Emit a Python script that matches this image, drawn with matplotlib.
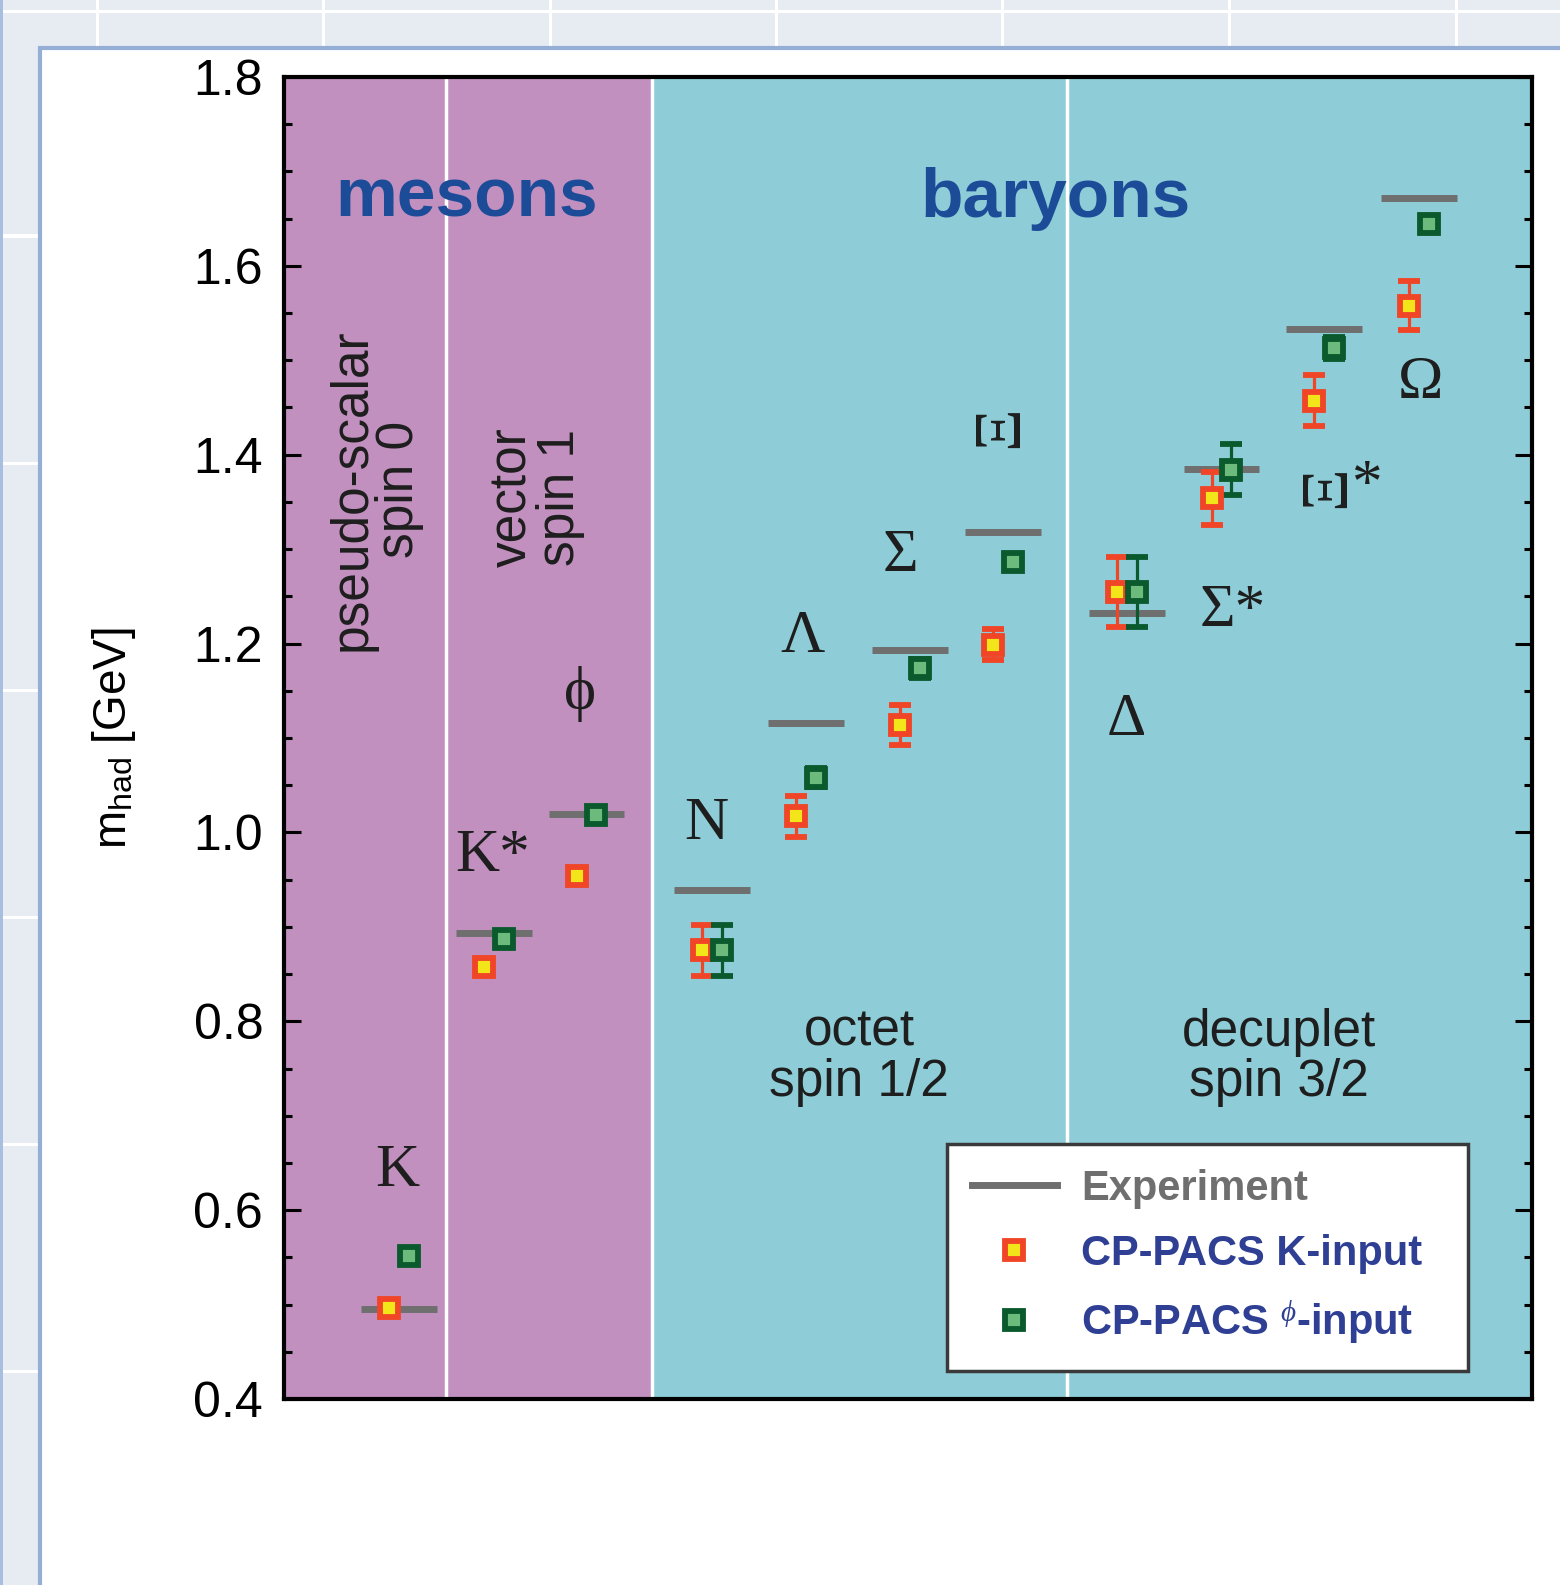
import matplotlib
matplotlib.use("Agg")
import matplotlib.pyplot as plt
from matplotlib.patches import Rectangle
from matplotlib.lines import Line2D
from matplotlib.ticker import MultipleLocator

plt.rcParams['font.family'] = ['Liberation Sans', 'DejaVu Sans']
plt.rcParams['mathtext.fontset'] = 'custom'
plt.rcParams['mathtext.rm'] = 'Liberation Sans'
plt.rcParams['mathtext.it'] = 'Liberation Serif:italic'

# hadrons, left to right
names = ['K', 'K*', 'ϕ', 'N', 'Λ', 'Σ', 'Ξ', 'Δ', 'Σ*', 'Ξ', 'Ω']
xpos = [1.15, 2.10, 3.03, 4.29, 5.23, 6.27, 7.20, 8.44, 9.39, 10.42, 11.37]

# experimental masses [GeV]
m_exp = [0.495, 0.894, 1.019, 0.939, 1.116, 1.193, 1.318, 1.232, 1.385, 1.533, 1.672]

# CP-PACS K-input
m_k = [0.496, 0.857, 0.954, 0.875, 1.017, 1.114, 1.199, 1.255, 1.354, 1.457, 1.558]
e_k = [0.0, 0.005, 0.006, 0.027, 0.022, 0.021, 0.016, 0.037, 0.028, 0.027, 0.026]

# CP-PACS phi-input
m_phi = [0.551, 0.887, 1.018, 0.875, 1.058, 1.174, 1.286, 1.255, 1.384, 1.513, 1.644]
e_phi = [0.0, 0.005, 0.0, 0.027, 0.010, 0.010, 0.008, 0.037, 0.027, 0.012, 0.0]

# label positions
lab_x = [1.13, 2.09, 2.97, 4.23, 5.19, 6.17, 7.18, 8.44, 9.50, 10.45, 11.38]
lab_y = [0.641, 0.975, 1.147, 1.009, 1.207, 1.293, 1.430, 1.119, 1.234, 1.366, 1.476]
lab_rot = [0, 0, 0, 0, 0, 0, 90, 0, 0, 90, 0]
lab_size = [44, 44, 44, 44, 44, 44, 48, 44, 44, 48, 44]

W, H = 1560, 1585
fig = plt.figure(figsize=(W / 100, H / 100), dpi=100)
fig.patch.set_facecolor('#e7ecf3')


def px(x0, y0, w, h, **kw):
    # rectangle given in pixel coordinates from top-left corner
    r = Rectangle((x0 / W, 1 - (y0 + h) / H), w / W, h / H,
                  transform=fig.transFigure, zorder=-10, **kw)
    fig.add_artist(r)


# screenshot-like surroundings
for xv in [97, 323, 550, 776, 1002, 1229, 1456]:
    px(xv - 1.5, 0, 3, 46, facecolor='white', edgecolor='none')
px(0, 10, W, 3, facecolor='white', edgecolor='none')
for yh in [236, 463, 690, 917, 1144, 1371]:
    px(0, yh - 1.5, 38, 3, facecolor='white', edgecolor='none')
px(0, 0, 3, H, facecolor='#a9bfe0', edgecolor='none')
px(40, 48, W, H, facecolor='white', edgecolor='#94aed6', linewidth=3)

ax = fig.add_axes([284 / W, 1 - 1399 / H, 1248 / W, 1322 / H])
ax.set_xlim(0, 12.5)
ax.set_ylim(0.4, 1.8)

ax.axvspan(0, 3.69, color='#c190bf', zorder=0)
ax.axvspan(3.69, 12.5, color='#8ecdd7', zorder=0)
for xv in [1.62, 3.69, 7.84]:
    ax.axvline(xv, color='white', lw=2.5, zorder=1)

# experiment
ax.hlines(m_exp, [x - 0.38 for x in xpos], [x + 0.38 for x in xpos],
          color='#6f6f6f', lw=5, zorder=2)

ax.errorbar([x - 0.10 for x in xpos], m_k, yerr=e_k, fmt='s', ms=13.5,
            mfc='#f2e61a', mec='#f04526', mew=4.2, ecolor='#f04526',
            elinewidth=2.3, capsize=8, capthick=2.3, zorder=3)
ax.errorbar([x + 0.10 for x in xpos], m_phi, yerr=e_phi, fmt='s', ms=13.5,
            mfc='#6cbb7c', mec='#0b5a2d', mew=4.2, ecolor='#0b5a2d',
            elinewidth=2.3, capsize=8, capthick=2.3, zorder=3)

for n, x, y, r, s in zip(names, lab_x, lab_y, lab_rot, lab_size):
    ax.text(x, y, n, family=['Liberation Serif', 'DejaVu Serif'], fontsize=s,
            color='#1e1e1e', ha='center', va='center', rotation=r)
ax.text(10.84, 1.367, '*', family='Liberation Serif', fontsize=44,
        color='#1e1e1e', ha='center', va='center')

ax.text(1.83, 1.652, 'mesons', fontsize=50, fontweight='bold', color='#1c4c98',
        ha='center', va='baseline')
ax.text(7.73, 1.652, 'baryons', fontsize=50, fontweight='bold', color='#1c4c98',
        ha='center', va='baseline')

ax.text(0.92, 1.363, 'pseudo-scalar\nspin 0', fontsize=37, rotation=90,
        ha='center', va='center', multialignment='center', linespacing=0.95,
        color='#1e1e1e')
ax.text(2.53, 1.355, 'vector\nspin 1', fontsize=37, rotation=90,
        ha='center', va='center', multialignment='center', linespacing=0.95,
        color='#1e1e1e')
ax.text(5.76, 0.762, 'octet\nspin 1/2', fontsize=37, ha='center', va='center',
        multialignment='center', linespacing=1.02, color='#1e1e1e')
ax.text(9.97, 0.762, 'decuplet\nspin 3/2', fontsize=37, ha='center', va='center',
        multialignment='center', linespacing=1.02, color='#1e1e1e')

ax.set_xticks([])
ax.yaxis.set_major_locator(MultipleLocator(0.2))
ax.yaxis.set_minor_locator(MultipleLocator(0.05))
ax.set_yticks([0.4, 0.6, 0.8, 1.0, 1.2, 1.4, 1.6, 1.8])
ax.set_yticklabels(['0.4', '0.6', '0.8', '1.0', '1.2', '1.4', '1.6', '1.8'])
ax.tick_params(axis='y', which='both', direction='in', left=True, right=True,
               labelsize=36, pad=15)
ax.tick_params(axis='y', which='major', length=12, width=2.2)
ax.tick_params(axis='y', which='minor', length=6, width=2.2)
for s in ax.spines.values():
    s.set_linewidth(3)

ax.set_ylabel(r'm$_{\rm had}$ [GeV]', fontsize=33, labelpad=40)

handles = [
    Line2D([], [], color='#6f6f6f', lw=5),
    Line2D([], [], ls='none', marker='s', ms=13.5, mfc='#f2e61a',
           mec='#f04526', mew=4.2),
    Line2D([], [], ls='none', marker='s', ms=13.5, mfc='#6cbb7c',
           mec='#0b5a2d', mew=4.2),
]
labels = ['Experiment', 'CP-PACS K-input', r'CP-PACS $^{\phi}$-input']
leg = ax.legend(handles, labels, loc='lower left', mode='expand',
                bbox_to_anchor=(0.531, 0.0212, 0.418, 0.2), fancybox=False,
                framealpha=1, edgecolor='#3a3a3a',
                prop={'size': 30, 'weight': 'bold'},
                handlelength=2.05, handletextpad=0.58, labelspacing=0.6,
                borderpad=0.6, borderaxespad=0)
leg.get_frame().set_linewidth(2.5)
for t, c in zip(leg.get_texts(), ['#6f6f6f', '#2e3f94', '#2e3f94']):
    t.set_color(c)

fig.savefig('out.png', dpi=100, facecolor=fig.get_facecolor())
